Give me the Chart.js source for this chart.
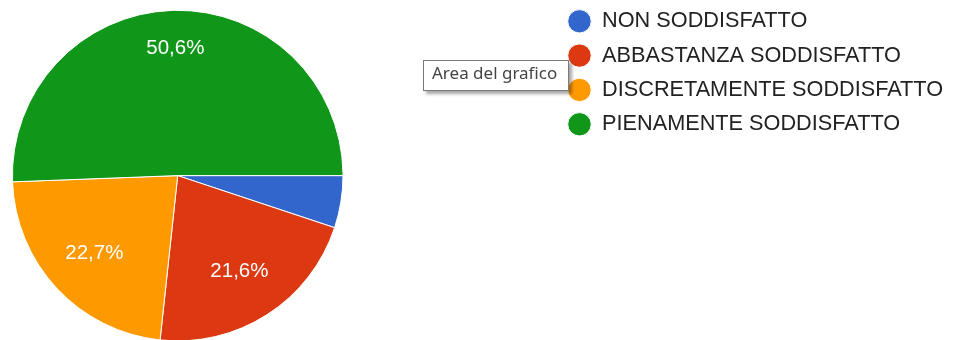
<!DOCTYPE html>
<html>
<head>
<meta charset="utf-8">
<script src="https://cdn.jsdelivr.net/npm/chart.js@4/dist/chart.umd.min.js"></script>
<style>
  html, body { margin: 0; padding: 0; background: #fff; overflow: hidden; }
  #wrap { position: relative; width: 958px; height: 340px; }
  #tip {
    position: absolute; left: 423px; top: 60px;
    box-sizing: border-box; width: 146px; height: 31px;
    padding: 0 0 0 8px; line-height: 29px;
    background: #fff; border: 1px solid #7a7a7a;
    box-shadow: 3px 3px 3px rgba(0,0,0,0.35);
    font: 17px "Noto Sans", "Open Sans", sans-serif; color: #444;
    white-space: nowrap;
  }
</style>
</head>
<body>
<div id="wrap">
  <canvas id="chart"></canvas>
  <div id="tip">Area del grafico</div>
</div>
<script>
// Risposte: livello di soddisfazione (percentuali)
const categories = [
  'NON SODDISFATTO',
  'ABBASTANZA SODDISFATTO',
  'DISCRETAMENTE SODDISFATTO',
  'PIENAMENTE SODDISFATTO'
];
const shares = [5.1, 21.6, 22.7, 50.6];
const sliceColors = ['#3366cc', '#dc3912', '#ff9900', '#109618'];

// Layout of the two blocks (pie on the left, legend on the right)
const PIE = { cx: 177.7, cy: 175.6, r: 165.3 };
const LEGEND_BOX = { left: 555.1, top: -2.2 };
const FONT = 'Arial, "Liberation Sans", sans-serif';

const fmtPct = v => v.toFixed(1).replace('.', ',') + '%';

// Place the pie and the legend at fixed spots after Chart.js lays out its boxes
const placeBlocks = {
  id: 'placeBlocks',
  afterLayout(chart) {
    const a = chart.chartArea;
    const half = PIE.r + 0.5;
    a.left = PIE.cx - half; a.right = PIE.cx + half;
    a.top = PIE.cy - half; a.bottom = PIE.cy + half;
    a.width = 2 * half; a.height = 2 * half;
    const lg = chart.legend;
    lg.left = LEGEND_BOX.left; lg.right = lg.left + lg.width;
    lg.top = LEGEND_BOX.top; lg.bottom = lg.top + chart.height + 20;
  }
};

// Percent labels drawn inside the slices
const sliceLabels = {
  id: 'sliceLabels',
  afterDatasetsDraw(chart) {
    const meta = chart.getDatasetMeta(0);
    const total = shares.reduce((s, v) => s + v, 0);
    const ctx = chart.ctx;
    ctx.save();
    ctx.font = '20.5px ' + FONT;
    ctx.fillStyle = '#ffffff';
    ctx.textAlign = 'center';
    ctx.textBaseline = 'middle';
    meta.data.forEach((arc, i) => {
      const v = shares[i];
      if (v / total < 0.08) return; // thin slices stay unlabeled
      const p = arc.getProps(['x', 'y', 'startAngle', 'endAngle', 'outerRadius'], true);
      const mid = (p.startAngle + p.endAngle) / 2;
      const k = (p.endAngle - p.startAngle) > Math.PI ? 0.77 : 0.69;
      ctx.fillText(fmtPct(v),
        p.x + Math.cos(mid) * p.outerRadius * k,
        p.y + Math.sin(mid) * p.outerRadius * k);
    });
    ctx.restore();
  }
};

new Chart(document.getElementById('chart'), {
  type: 'pie',
  data: {
    labels: categories,
    datasets: [{
      data: shares,
      backgroundColor: sliceColors,
      borderColor: '#ffffff',
      borderWidth: 1,
      clip: false
    }]
  },
  options: {
    responsive: true,
    maintainAspectRatio: false,
    animation: false,
    rotation: 90,
    layout: { padding: 0 },
    plugins: {
      tooltip: { enabled: false },
      legend: {
        position: 'right',
        align: 'start',
        labels: {
          usePointStyle: true,
          pointStyle: 'circle',
          boxHeight: 16.5,
          pointStyleWidth: 23.5,
          padding: 12.63,
          color: '#222222',
          font: { family: FONT, size: 21.7 }
        }
      }
    }
  },
  plugins: [placeBlocks, sliceLabels]
});
</script>
</body>
</html>
